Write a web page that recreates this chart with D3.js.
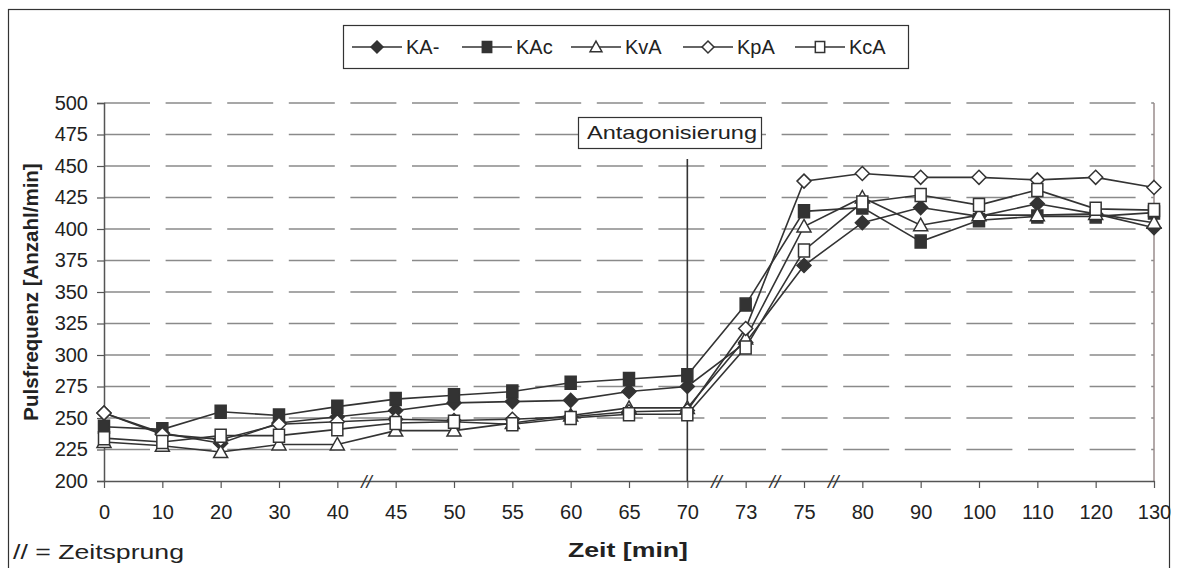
<!DOCTYPE html>
<html>
<head>
<meta charset="utf-8">
<script src="https://cdn.jsdelivr.net/npm/d3@7"></script>
<style>
  html, body { margin: 0; padding: 0; background: #fff; }
  svg { display: block; font-family: "Liberation Sans", Arial, sans-serif; }
</style>
</head>
<body>
<svg id="chart" width="1177" height="568"></svg>
<script>
// Zeitpunkte (min) – kategoriale Achse mit Zeitsprüngen
const categories = ["0","10","20","30","40","45","50","55","60","65","70","73","75","80","90","100","110","120","130"];
const yTicks = [200,225,250,275,300,325,350,375,400,425,450,475,500];
// Positionen der Zeitsprung-Markierungen (zwischen diesen Kategorien)
const breaks = [["40","45"],["70","73"],["73","75"],["75","80"]];

const seriesNames = ["KA-","KAc","KvA","KpA","KcA"];
const valuesKAminus = [254,238,230,246,251,256,262,263,264,271,275,310,371,405,417,410,420,412,401];
const valuesKAc     = [243,241,255,252,259,265,268,271,278,281,284,340,414,417,390,407,410,410,413];
const valuesKvA     = [231,228,223,229,229,240,240,246,252,258,258,313,402,425,403,411,411,412,405];
const valuesKpA     = [254,237,233,245,247,249,248,249,251,255,256,321,438,444,441,441,439,441,433];
const valuesKcA     = [234,231,236,236,241,246,247,245,250,253,253,306,383,421,427,419,431,416,415];

const series = [
  { name: seriesNames[0], values: valuesKAminus, shape: "diamond",  fill: "#333" },
  { name: seriesNames[1], values: valuesKAc,     shape: "square",   fill: "#333" },
  { name: seriesNames[2], values: valuesKvA,     shape: "triangle", fill: "#fff" },
  { name: seriesNames[3], values: valuesKpA,     shape: "diamond",  fill: "#fff" },
  { name: seriesNames[4], values: valuesKcA,     shape: "square",   fill: "#fff" }
];

const svg = d3.select("#chart");
const plotLeft = 104, plotRight = 1154, plotTop = 103, plotBottom = 481;
const textColor = "#222";

const x = d3.scalePoint().domain(categories).range([plotLeft, plotRight]);
const y = d3.scaleLinear().domain([200, 500]).range([plotBottom, plotTop]);

// Äußerer Rahmen
svg.append("rect").attr("x", 8.5).attr("y", 9.5).attr("width", 1161).attr("height", 600)
  .attr("fill", "none").attr("stroke", "#333").attr("stroke-width", 1.2);

// Gitterlinien (gestrichelt)
svg.append("g").selectAll("line").data(yTicks.filter(d => d > 200)).join("line")
  .attr("x1", plotLeft).attr("x2", plotRight)
  .attr("y1", d => y(d)).attr("y2", d => y(d))
  .attr("stroke", "#8a8a8a").attr("stroke-width", 1.6)
  .attr("stroke-dasharray", "46,15.6");

// Rechter Rand der Zeichenfläche
svg.append("line").attr("x1", plotRight).attr("x2", plotRight).attr("y1", plotTop).attr("y2", plotBottom)
  .attr("stroke", "#9a8c8c").attr("stroke-width", 1.5);

// Y-Achse
const yAxis = d3.axisLeft(y).tickValues(yTicks).tickSize(7).tickPadding(9);
const gy = svg.append("g").attr("transform", `translate(${plotLeft},0)`).call(yAxis);
gy.select(".domain").attr("stroke", "#555").attr("stroke-width", 1.5);
gy.selectAll(".tick line").attr("stroke", "#555").attr("stroke-width", 1.2);
gy.selectAll(".tick text").attr("font-size", 20).attr("fill", textColor)
  .attr("font-family", "Liberation Sans, Arial, sans-serif");

// X-Achse
const xAxis = d3.axisBottom(x).tickSize(7).tickPadding(17).tickSizeOuter(0);
const gx = svg.append("g").attr("transform", `translate(0,${plotBottom})`).call(xAxis);
gx.select(".domain").attr("stroke", "#555").attr("stroke-width", 1.5);
gx.selectAll(".tick line").attr("stroke", "#555").attr("stroke-width", 1.2);
gx.selectAll(".tick text").attr("font-size", 20).attr("fill", textColor)
  .attr("font-family", "Liberation Sans, Arial, sans-serif");

// Zeitsprung-Zeichen "//"
svg.append("g").selectAll("text").data(breaks).join("text")
  .attr("x", d => (x(d[0]) + x(d[1])) / 2)
  .attr("y", plotBottom + 7)
  .attr("text-anchor", "middle")
  .attr("font-size", 19).attr("font-style", "italic").attr("fill", "#333")
  .text("//");

// Antagonisierung-Markierung
const xa = x("70");
svg.append("line").attr("x1", xa).attr("x2", xa).attr("y1", 159).attr("y2", plotBottom)
  .attr("stroke", "#333").attr("stroke-width", 1.6);
svg.append("rect").attr("x", 578.5).attr("y", 117.5).attr("width", 183).attr("height", 31)
  .attr("fill", "#fff").attr("stroke", "#333").attr("stroke-width", 1.2);
svg.append("text").attr("x", 587).attr("y", 139)
  .attr("font-size", 19).attr("fill", textColor)
  .attr("textLength", 170).attr("lengthAdjust", "spacingAndGlyphs")
  .text("Antagonisierung");

// Marker-Symbole
function markerPath(shape, k = 1) {
  if (shape === "diamond") return `M0,${-7*k}L${7*k},0L0,${7*k}L${-7*k},0Z`;
  if (shape === "square") return `M${-5.5*k},${-6.5*k}H${5.5*k}V${6.5*k}H${-5.5*k}Z`;
  return `M0,${-7*k}L${7*k},${5.5*k}H${-7*k}Z`;
}

const line = d3.line().x((d, i) => x(categories[i])).y(d => y(d));

series.forEach(s => {
  const g = svg.append("g");
  g.append("path").datum(s.values).attr("d", line)
    .attr("fill", "none").attr("stroke", "#333").attr("stroke-width", 1.6);
  g.selectAll("path.pt").data(s.values).join("path").attr("class", "pt")
    .attr("transform", (d, i) => `translate(${x(categories[i])},${y(d)})`)
    .attr("d", markerPath(s.shape))
    .attr("fill", s.fill).attr("stroke", "#333").attr("stroke-width", 1.5);
});

// Legende
const legend = svg.append("g");
legend.append("rect").attr("x", 343.5).attr("y", 25.5).attr("width", 565).attr("height", 43)
  .attr("fill", "#fff").attr("stroke", "#333").attr("stroke-width", 1.2);
const legendX = [352, 462, 571, 683, 795];
series.forEach((s, i) => {
  const lx = legendX[i];
  const ly = 47;
  legend.append("line").attr("x1", lx).attr("x2", lx + 50).attr("y1", ly).attr("y2", ly)
    .attr("stroke", "#333").attr("stroke-width", 1.6);
  legend.append("path").attr("transform", `translate(${lx + 25},${ly})`)
    .attr("d", markerPath(s.shape, 0.85))
    .attr("fill", s.fill).attr("stroke", "#333").attr("stroke-width", 1.5);
  legend.append("text").attr("x", lx + 54).attr("y", ly + 7)
    .attr("font-size", 20).attr("fill", textColor).text(s.name);
});

// Achsentitel
svg.append("text").attr("transform", "translate(38,292) rotate(-90)")
  .attr("text-anchor", "middle").attr("font-size", 20.5).attr("font-weight", "bold")
  .attr("fill", textColor).text("Pulsfrequenz [Anzahl/min]");
svg.append("text").attr("x", 568).attr("y", 557)
  .attr("font-size", 21).attr("font-weight", "bold").attr("fill", textColor)
  .attr("textLength", 120).attr("lengthAdjust", "spacingAndGlyphs")
  .text("Zeit [min]");

// Fußnote
svg.append("text").attr("x", 13).attr("y", 559)
  .attr("font-size", 20).attr("fill", textColor)
  .attr("textLength", 171).attr("lengthAdjust", "spacingAndGlyphs")
  .text("// = Zeitsprung");
</script>
</body>
</html>
